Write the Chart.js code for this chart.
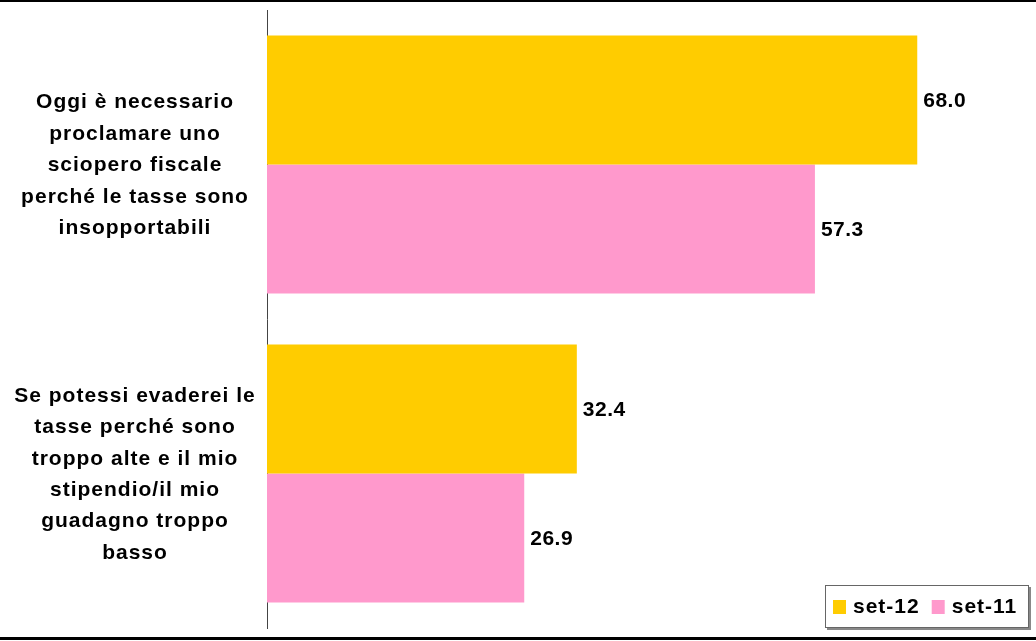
<!DOCTYPE html>
<html><head><meta charset="utf-8">
<script src="https://cdn.jsdelivr.net/npm/chart.js@4"></script>
<style>html,body{margin:0;padding:0;background:#fff}#wrap{width:1036px;height:641px}</style>
</head><body><div id="wrap"><canvas id="c" width="1036" height="641"></canvas></div>
<script>
const categories = [
  ["Oggi è necessario","proclamare uno","sciopero fiscale","perché le tasse sono","insopportabili"],
  ["Se potessi evaderei le","tasse perché sono","troppo alte e il mio","stipendio/il mio","guadagno troppo","basso"]
];
const seriesNames = ["set-12","set-11"];
const set12 = [68.0, 32.4];
const set11 = [57.3, 26.9];
const colors = ["#FFCC00","#FF99CC"];

const FONT = '"Liberation Sans", Arial, sans-serif';

const extras = {
  id:'extras',
  afterDatasetsDraw(chart){
    const ctx = chart.ctx;
    ctx.save();
    // category labels
    const ys = chart.scales.y;
    ctx.font = 'bold 21px ' + FONT;
    ctx.letterSpacing = '1px';
    ctx.fillStyle = '#000';
    ctx.textAlign = 'center';
    ctx.textBaseline = 'middle';
    const lh = 31.4;
    chart.data.labels.forEach((lines,i)=>{
      const cy = ys.getPixelForTick(i) + 1;
      const n = lines.length;
      lines.forEach((t,k)=>{
        ctx.fillText(t, 135, cy + (k - (n-1)/2)*lh);
      });
    });
    // value labels
    ctx.letterSpacing = '0.5px';
    ctx.textAlign = 'left';
    chart.data.datasets.forEach((ds,i)=>{
      chart.getDatasetMeta(i).data.forEach((bar,j)=>{
        ctx.fillText(ds.data[j].toFixed(1), bar.x + 6, bar.y + 1);
      });
    });
    // frame lines
    ctx.fillStyle = '#000';
    ctx.fillRect(0,0,1036,2);
    ctx.fillRect(0,637,1036,3);
    // legend
    const bx=825, by=585, bw=204, bh=43;
    ctx.fillStyle='#888';
    ctx.fillRect(bx+2,by+bh,bw,2);
    ctx.fillRect(bx+bw,by+2,2,bh);
    ctx.fillStyle='#fff';
    ctx.fillRect(bx,by,bw,bh);
    ctx.strokeStyle='#666'; ctx.lineWidth=1;
    ctx.strokeRect(bx+0.5,by+0.5,bw-1,bh-1);
    ctx.letterSpacing = '1px';
    let x = bx+8;
    chart.data.datasets.forEach((ds,i)=>{
      ctx.fillStyle = ds.backgroundColor;
      ctx.fillRect(x, by+15, 13, 14);
      ctx.fillStyle='#000';
      ctx.textBaseline='middle';
      ctx.fillText(ds.label, x+20, by+bh/2+1);
      x += 20 + ctx.measureText(ds.label).width + 12;
    });
    ctx.restore();
  }
};

new Chart(document.getElementById('c'), {
  type:'bar',
  data:{
    labels: categories,
    datasets:[
      {label: seriesNames[0], data: set12, backgroundColor: colors[0], categoryPercentage:0.835, barPercentage:1.0},
      {label: seriesNames[1], data: set11, backgroundColor: colors[1], categoryPercentage:0.835, barPercentage:1.0}
    ]
  },
  options:{
    indexAxis:'y',
    responsive:false,
    animation:false,
    layout:{padding:{top:10,bottom:13,left:0,right:4}},
    plugins:{legend:{display:false},tooltip:{enabled:false}},
    scales:{
      x:{display:false,min:0,max:80},
      y:{
        grid:{display:false,drawTicks:false},
        border:{display:true,color:'#444',width:1},
        ticks:{display:false},
        afterFit(scale){ scale.width = 267; scale.paddingTop = 0; scale.paddingBottom = 0; }
      }
    }
  },
  plugins:[extras]
});
</script>
</body></html>
